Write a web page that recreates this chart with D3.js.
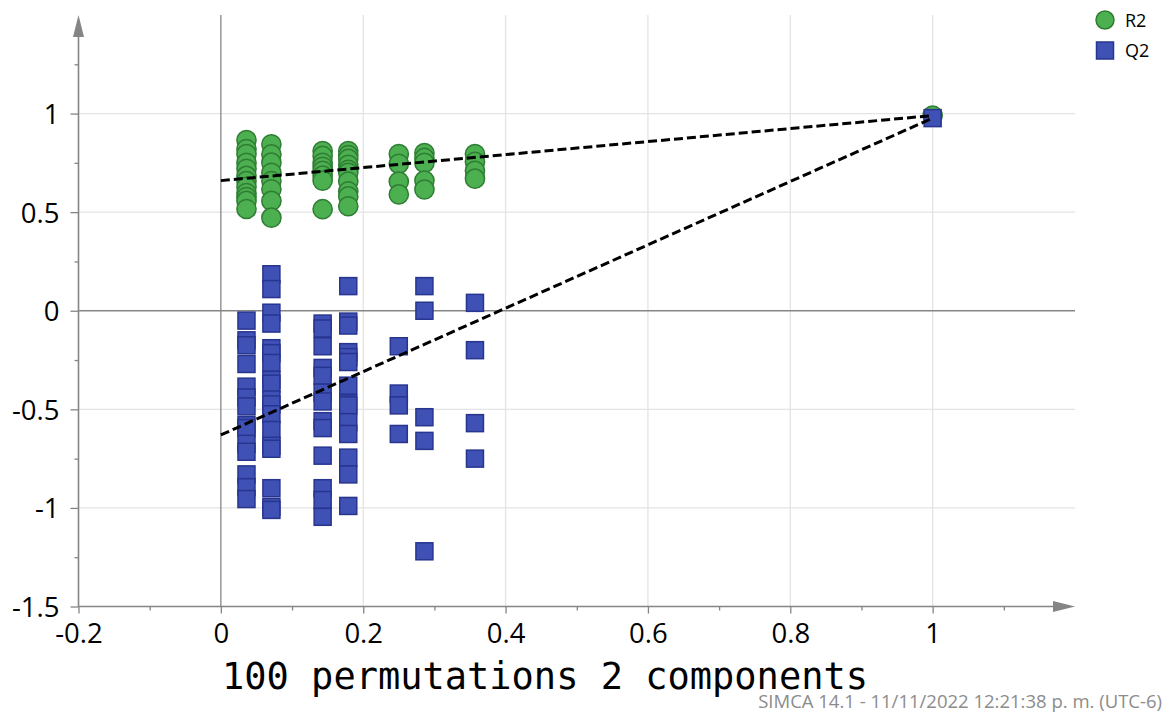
<!DOCTYPE html>
<html>
<head>
<meta charset="utf-8">
<script src="https://cdn.jsdelivr.net/npm/d3@7"></script>
<style>
	body { margin: 0; background: #fff; }
	#chart svg { display: block; }
</style>
</head>
<body>
<div id="chart"></div>
<script>
// correlation between permuted and original Y, one entry per column of points
const permCorr = [0.036, 0.071, 0.143, 0.179, 0.25, 0.286, 0.357];

// R2 of the permuted models, grouped by permCorr column
const r2Perm = [
	[0.866, 0.82, 0.795, 0.75, 0.72, 0.684, 0.658, 0.628, 0.597, 0.577, 0.557, 0.516],
	[0.844, 0.793, 0.751, 0.70, 0.658, 0.616, 0.557, 0.472],
	[0.81, 0.785, 0.75, 0.73, 0.71, 0.685, 0.66, 0.515],
	[0.81, 0.79, 0.77, 0.74, 0.715, 0.70, 0.655, 0.605, 0.58, 0.53],
	[0.795, 0.745, 0.655, 0.59],
	[0.80, 0.775, 0.75, 0.66, 0.615],
	[0.795, 0.755, 0.71, 0.67]
];

// Q2 of the permuted models, grouped the same way
const q2Perm = [
	[-0.05, -0.15, -0.175, -0.27, -0.385, -0.44, -0.485, -0.58, -0.595, -0.675, -0.715, -0.83, -0.895, -0.955],
	[0.185, 0.11, -0.01, -0.065, -0.19, -0.215, -0.265, -0.35, -0.37, -0.45, -0.475, -0.525, -0.605, -0.685, -0.7, -0.9, -0.995, -1.01],
	[-0.065, -0.09, -0.18, -0.29, -0.33, -0.415, -0.46, -0.56, -0.595, -0.735, -0.9, -0.96, -1.045],
	[0.125, -0.055, -0.075, -0.21, -0.235, -0.26, -0.38, -0.47, -0.48, -0.565, -0.625, -0.745, -0.83, -0.99],
	[-0.18, -0.42, -0.48, -0.625],
	[0.125, 0.0, -0.54, -0.66, -1.22],
	[0.04, -0.2, -0.57, -0.75]
];

// original (unpermuted) model
const origCorr = 1;
const origR2 = 0.99;
const origQ2 = 0.977;

// regression line intercepts
const r2Intercept = 0.66;
const q2Intercept = -0.63;

const xTicks = [-0.2, 0, 0.2, 0.4, 0.6, 0.8, 1];
const xMinor = [-0.1, 0.1, 0.3, 0.5, 0.7, 0.9, 1.1];
const yTicks = [-1.5, -1, -0.5, 0, 0.5, 1];
const yMinor = [-1.25, -0.75, -0.25, 0.25, 0.75, 1.25];

const legendLabels = ['R2', 'Q2'];
const xTitle = '100 permutations 2 components';
const footer = 'SIMCA 14.1 - 11/11/2022 12:21:38 p. m. (UTC-6)';

function drawChart() {
	var width = 1167, height = 714;
	var greenFill = '#4caf50', greenStroke = '#2f7d33';
	var blueFill = '#3f51b5', blueStroke = '#28358f';
	var axisColor = '#858585', gridColor = '#e4e4e4';
	var tickFont = '"Open Sans", "Noto Sans", sans-serif';

	// plain hyphen for negatives, like the original
	var fmt = d => String(d);

	var x = d3.scaleLinear().domain([-0.2, 1.2]).range([78.5, 1075]);
	var y = d3.scaleLinear().domain([-1.5, 1.5]).range([606.5, 15]);

	var svg = d3.select('#chart').append('svg')
		.attr('width', width)
		.attr('height', height);

	// grid
	var grid = svg.append('g').attr('class', 'grid');
	grid.selectAll('.vgrid')
		.data(xTicks.filter(d => d > 0))
		.enter().append('line')
		.attr('x1', d => x(d)).attr('x2', d => x(d))
		.attr('y1', y(1.5)).attr('y2', y(-1.5))
		.attr('stroke', gridColor).attr('stroke-width', 1.3);
	grid.selectAll('.hgrid')
		.data(yTicks.filter(d => d !== 0 && d !== -1.5))
		.enter().append('line')
		.attr('x1', x(-0.2)).attr('x2', x(1.2))
		.attr('y1', d => y(d)).attr('y2', d => y(d))
		.attr('stroke', gridColor).attr('stroke-width', 1.3);

	// zero lines
	svg.append('line')
		.attr('x1', x(0)).attr('x2', x(0))
		.attr('y1', y(1.5)).attr('y2', y(-1.5))
		.attr('stroke', axisColor).attr('stroke-width', 1.3);
	svg.append('line')
		.attr('x1', x(-0.2)).attr('x2', x(1.2))
		.attr('y1', y(0)).attr('y2', y(0))
		.attr('stroke', axisColor).attr('stroke-width', 1.3);

	// x axis
	var xAxis = d3.axisBottom(x).tickValues(xTicks).tickSize(7).tickPadding(10).tickFormat(fmt);
	var xAxisMinor = d3.axisBottom(x).tickValues(xMinor).tickSize(4).tickFormat('');
	var gx = svg.append('g').attr('transform', 'translate(0,' + y(-1.5) + ')').call(xAxis);
	svg.append('g').attr('transform', 'translate(0,' + y(-1.5) + ')').call(xAxisMinor)
		.select('.domain').remove();

	// y axis
	var yAxis = d3.axisLeft(y).tickValues(yTicks).tickSize(8).tickPadding(11).tickFormat(fmt);
	var yAxisMinor = d3.axisLeft(y).tickValues(yMinor).tickSize(4).tickFormat('');
	var gy = svg.append('g').attr('transform', 'translate(' + x(-0.2) + ',0)').call(yAxis);
	svg.append('g').attr('transform', 'translate(' + x(-0.2) + ',0)').call(yAxisMinor)
		.select('.domain').remove();

	[gx, gy].forEach(function (g) {
		g.select('.domain').remove();
		g.selectAll('.tick text')
			.attr('fill', '#000')
			.style('font-family', tickFont)
			.style('font-size', '27.5px');
	});
	svg.selectAll('.tick line').attr('stroke', axisColor).attr('stroke-width', 1.3);
	gy.selectAll('.tick text').attr('dy', '0.36em');

	// axis lines with arrows
	svg.append('line')
		.attr('x1', x(-0.2)).attr('x2', x(1.2) - 20)
		.attr('y1', y(-1.5)).attr('y2', y(-1.5))
		.attr('stroke', axisColor).attr('stroke-width', 1.6);
	svg.append('path')
		.attr('d', 'M' + x(1.2) + ',' + y(-1.5) + 'l-22,-5.5v11z')
		.attr('fill', axisColor);
	svg.append('line')
		.attr('x1', x(-0.2)).attr('x2', x(-0.2))
		.attr('y1', y(-1.5)).attr('y2', y(1.5) + 20)
		.attr('stroke', axisColor).attr('stroke-width', 1.6);
	svg.append('path')
		.attr('d', 'M' + x(-0.2) + ',' + y(1.5) + 'l-5.5,22h11z')
		.attr('fill', axisColor);

	// flatten the permutation columns into points
	var r2Points = [], q2Points = [];
	permCorr.forEach(function (c, i) {
		r2Perm[i].forEach(v => r2Points.push({ x: c, y: v }));
		q2Perm[i].forEach(v => q2Points.push({ x: c, y: v }));
	});
	r2Points.push({ x: origCorr, y: origR2 });
	q2Points.push({ x: origCorr, y: origQ2 });

	var rad = 9.6, sq = 17;
	svg.append('g').selectAll('circle')
		.data(r2Points)
		.enter().append('circle')
		.attr('cx', d => x(d.x))
		.attr('cy', d => y(d.y))
		.attr('r', rad)
		.attr('fill', greenFill)
		.attr('stroke', greenStroke)
		.attr('stroke-width', 1.5);

	svg.append('g').selectAll('rect')
		.data(q2Points)
		.enter().append('rect')
		.attr('x', d => x(d.x) - sq / 2)
		.attr('y', d => y(d.y) - sq / 2)
		.attr('width', sq)
		.attr('height', sq)
		.attr('fill', blueFill)
		.attr('stroke', blueStroke)
		.attr('stroke-width', 1.5);

	// regression lines from intercept to original model
	var lines = [[r2Intercept, origR2], [q2Intercept, origQ2]];
	svg.append('g').selectAll('line')
		.data(lines)
		.enter().append('line')
		.attr('x1', x(0)).attr('y1', d => y(d[0]))
		.attr('x2', x(origCorr)).attr('y2', d => y(d[1]))
		.attr('stroke', '#000')
		.attr('stroke-width', 3)
		.attr('stroke-dasharray', '9,4');

	// legend
	var leg = svg.append('g').attr('transform', 'translate(1105,0)');
	leg.append('circle').attr('cx', 0).attr('cy', 20).attr('r', 9)
		.attr('fill', greenFill).attr('stroke', greenStroke).attr('stroke-width', 1.5);
	leg.append('rect').attr('x', -8.5).attr('y', 42).attr('width', 17).attr('height', 17)
		.attr('fill', blueFill).attr('stroke', blueStroke).attr('stroke-width', 1.5);
	leg.selectAll('text')
		.data(legendLabels)
		.enter().append('text')
		.attr('x', 20)
		.attr('y', (d, i) => 27 + i * 30)
		.text(d => d)
		.style('font-family', tickFont)
		.style('font-size', '18px')
		.attr('fill', '#000');

	// axis title
	svg.append('text')
		.attr('x', 222)
		.attr('y', 689)
		.text(xTitle)
		.style('font-family', '"DejaVu Sans Mono", "Liberation Mono", monospace')
		.style('font-size', '37px')
		.attr('fill', '#000');

	svg.append('text')
		.attr('x', 1162)
		.attr('y', 708)
		.attr('text-anchor', 'end')
		.text(footer)
		.style('font-family', tickFont)
		.style('font-size', '18.5px')
		.attr('fill', '#8c8c8c');
}

drawChart();
</script>
</body>
</html>
